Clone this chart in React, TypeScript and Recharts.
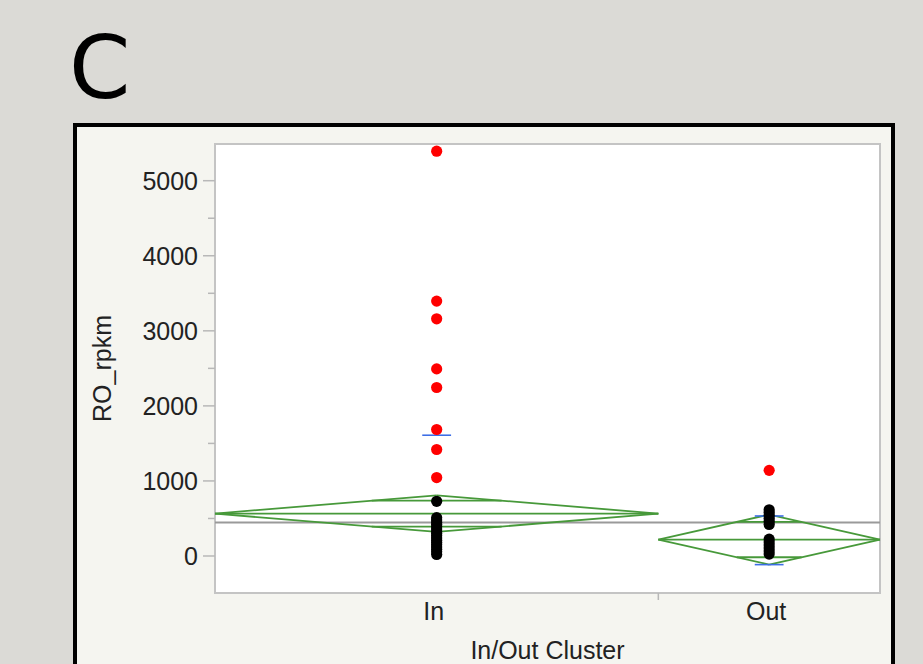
import React from 'react';
import { ScatterChart, Scatter, XAxis, YAxis, ReferenceLine, ReferenceArea, CartesianGrid } from 'recharts';

// ---- data ----
const categories = ['In', 'Out'];
const bandWeights = [2, 1]; // relative widths of the category bands
const inRed = [5393, 3396, 3160, 2493, 2245, 1685, 1419, 1045];
const inBlack = [729, 510, 480, 450, 420, 390, 360, 330, 300, 270, 240, 210, 180, 150, 120, 90, 55, 20];
const outRed = [1141];
const outBlack = [616, 580, 540, 500, 460, 420, 225, 185, 145, 105, 65, 25];
const groupMeans = [565, 219];
const ciHalf = [244, 333];
const grandMean = 445;
const sdMarks = [[1609], [533, -115]];
const yTicks = [0, 500, 1000, 1500, 2000, 2500, 3000, 3500, 4000, 4500, 5000];
const yDomain = [-493, 5489];

// ---- derived band geometry ----
const bandStart: number[] = [];
const bandEnd: number[] = [];
let acc = 0;
bandWeights.forEach((w) => {
  bandStart.push(acc);
  acc += w;
  bandEnd.push(acc);
});
const total = acc;
const bandCenter = bandStart.map((s, i) => (s + bandEnd[i]) / 2);

const redData = [
  ...inRed.map((v) => ({ x: bandCenter[0], y: v })),
  ...outRed.map((v) => ({ x: bandCenter[1], y: v })),
];
const blackData = [
  ...inBlack.map((v) => ({ x: bandCenter[0], y: v })),
  ...outBlack.map((v) => ({ x: bandCenter[1], y: v })),
];

const GREEN = '#47993a';
const BLUE = '#3d6ee6';
const FONT = '"Liberation Sans", Arial, Helvetica, sans-serif';

const Dot = (color: string) => (props: any) => {
  const { cx, cy } = props;
  if (cx == null || cy == null) return null;
  return <circle cx={cx} cy={cy} r={5.6} fill={color} />;
};

const YTick = (props: any) => {
  const { x, y, payload } = props;
  const v = payload.value;
  const major = v % 1000 === 0;
  return (
    <g>
      <line x1={x - (major ? 12 : 7)} x2={x} y1={y} y2={y} stroke="#b8b8b8" strokeWidth={1.5} />
      {major && (
        <text x={x - 17} y={y} textAnchor="end" dominantBaseline="central" fontSize={25} fill="#222" fontFamily={FONT}>
          {v}
        </text>
      )}
    </g>
  );
};

const XTick = (props: any) => {
  const { x, y, payload } = props;
  const v = payload.value;
  const idx = bandCenter.indexOf(v);
  if (idx < 0) {
    return <line x1={x} x2={x} y1={y} y2={y + 7} stroke="#b8b8b8" strokeWidth={1.5} />;
  }
  return (
    <text x={x - 3} y={y + 27} textAnchor="middle" fontSize={25} fill="#222" fontFamily={FONT}>
      {categories[idx]}
    </text>
  );
};

const YLabel = (props: any) => {
  const vb = props.viewBox || {};
  const cx = vb.x + 27;
  const cy = vb.y + vb.height / 2;
  return (
    <text
      x={cx}
      y={cy}
      transform={`rotate(-90 ${cx} ${cy})`}
      textAnchor="middle"
      dominantBaseline="central"
      fontSize={25}
      fill="#222"
      fontFamily={FONT}
    >
      RO_rpkm
    </text>
  );
};

const XLabel = (props: any) => {
  const vb = props.viewBox || {};
  return (
    <text x={vb.x + vb.width / 2} y={vb.y + 66} textAnchor="middle" fontSize={25} fill="#222" fontFamily={FONT}>
      In/Out Cluster
    </text>
  );
};

export default function App() {
  const diamondSegs: any[] = [];
  categories.forEach((_, i) => {
    const s = bandStart[i];
    const e = bandEnd[i];
    const c = bandCenter[i];
    const m = groupMeans[i];
    const h = ciHalf[i];
    const L = { x: s, y: m };
    const T = { x: c, y: m + h };
    const R = { x: e, y: m };
    const B = { x: c, y: m - h };
    diamondSegs.push([L, T], [T, R], [R, B], [B, L], [L, R]);
    const hw = (e - s) / 2;
    const f = 1 - 1 / Math.SQRT2;
    const oh = h / Math.SQRT2;
    diamondSegs.push([{ x: c - hw * f, y: m + oh }, { x: c + hw * f, y: m + oh }]);
    diamondSegs.push([{ x: c - hw * f, y: m - oh }, { x: c + hw * f, y: m - oh }]);
  });

  const blueSegs: any[] = [];
  sdMarks.forEach((arr, i) => {
    arr.forEach((v) => {
      blueSegs.push([{ x: bandCenter[i] - 0.065, y: v }, { x: bandCenter[i] + 0.065, y: v }]);
    });
  });

  return (
    <div style={{ position: 'absolute', left: 0, top: 0, width: 923, height: 664, overflow: 'hidden', background: '#dbdad6' }}>
      <svg width={923} height={120} style={{ position: 'absolute', left: 0, top: 0 }}>
        <text x={69} y={98} fontSize={88} fontFamily='"DejaVu Sans", sans-serif' fill="#000">
          C
        </text>
      </svg>
      <div
        style={{
          position: 'absolute',
          left: 73,
          top: 123,
          width: 822,
          height: 620,
          boxSizing: 'border-box',
          border: '4.5px solid #000',
          background: '#f5f5f0',
        }}
      />
      <div style={{ position: 'absolute', left: 0, top: 0 }}>
        <ScatterChart width={923} height={664} margin={{ top: 144, right: 43, bottom: 0, left: 75 }}>
          <CartesianGrid horizontal={false} vertical={false} fill="#ffffff" stroke="none" />
          <XAxis
            type="number"
            dataKey="x"
            domain={[0, total]}
            ticks={[...bandCenter, ...bandEnd.slice(0, -1)]}
            interval={0}
            allowDataOverflow
            axisLine={false}
            tickLine={false}
            tickSize={0}
            tickMargin={0}
            height={71}
            tick={<XTick />}
            label={<XLabel />}
          />
          <YAxis
            type="number"
            dataKey="y"
            domain={yDomain}
            ticks={yTicks}
            interval={0}
            allowDataOverflow
            axisLine={false}
            tickLine={false}
            tickSize={0}
            tickMargin={0}
            width={140}
            tick={<YTick />}
            label={<YLabel />}
          />
          <ReferenceArea
            x1={0}
            x2={total}
            y1={yDomain[0]}
            y2={yDomain[1]}
            fill="none"
            fillOpacity={0}
            stroke="#c4c4c4"
            strokeWidth={2}
          />
          <ReferenceLine y={grandMean} stroke="#9a9a9a" strokeWidth={2} />
          {diamondSegs.map((seg, k) => (
            <ReferenceLine key={'d' + k} segment={seg} stroke={GREEN} strokeWidth={1.8} />
          ))}
          <Scatter data={blackData} fill="#000" shape={Dot('#000')} isAnimationActive={false} />
          <Scatter data={redData} fill="#ff0000" shape={Dot('#ff0000')} isAnimationActive={false} />
          {blueSegs.map((seg, k) => (
            <ReferenceLine key={'b' + k} segment={seg} stroke={BLUE} strokeWidth={1.6} />
          ))}
        </ScatterChart>
      </div>
    </div>
  );
}
